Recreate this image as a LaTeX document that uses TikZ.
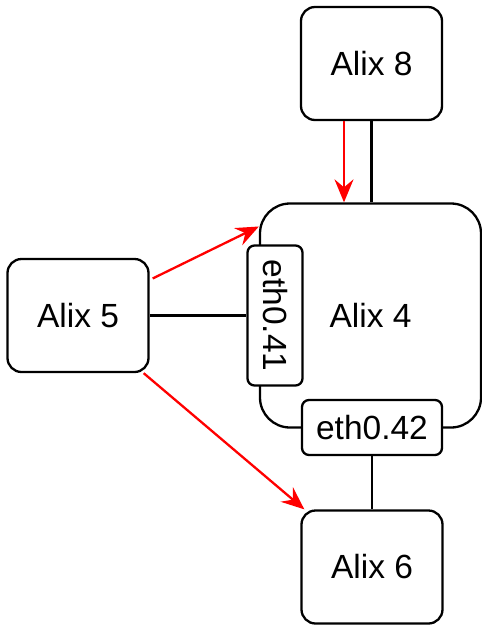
\documentclass[tikz,border=0pt]{standalone}
\usepackage{fontspec}
\setmainfont{Liberation Sans}
\usetikzlibrary{arrows.meta}
\begin{document}
\begin{tikzpicture}[x=1pt,y=-1pt,
  box/.style={draw=black, line width=2.3pt, rounded corners=14pt, fill=white,
    inner sep=0pt, font=\fontsize{33.5}{40}\selectfont},
  hostbox/.style={box, minimum width=141pt, minimum height=113pt},
  router/.style={box, rounded corners=30pt, minimum width=221pt, minimum height=224pt},
  port/.style={box, rounded corners=7pt, minimum width=140pt, minimum height=55pt},
  link/.style={draw=black, line width=2.3pt},
  flow/.style={draw=red, line width=2.3pt,
    -{Stealth[length=23pt,width=19pt,inset=8pt]}}]
\useasboundingbox (0,0) rectangle (482,625);

% central router and its two VLAN ports
\node[router] (a4) at (370.5,315.5) {Alix 4};
\node[port, rotate=-90] (e41) at (275,315.5) {eth0.41};
\node[port] (e42) at (372,427.5) {eth0.42};

% neighbouring hosts
\node[hostbox] (a8) at (371.5,63.5) {Alix 8};
\node[hostbox] (a5) at (78,315.5) {Alix 5};
\node[hostbox] (a6) at (372,567) {Alix 6};

% physical links
\draw[link] (a8.south) -- (a8.south |- a4.north);
\draw[link] (a5) -- (e41);
\draw[link] (e42) -- (a6);

% traffic flows
\draw[flow] ([xshift=-27.5pt]a8.south) -- ([xshift=-26.5pt]a4.north);
\draw[flow] ([shift={(3,-37)}]a5.east) -- ([shift={(0,-89)}]a4.west);
\draw[flow] ([xshift=-6pt]a5.south east) -- ([xshift=4pt]a6.north west);
\end{tikzpicture}
\end{document}
